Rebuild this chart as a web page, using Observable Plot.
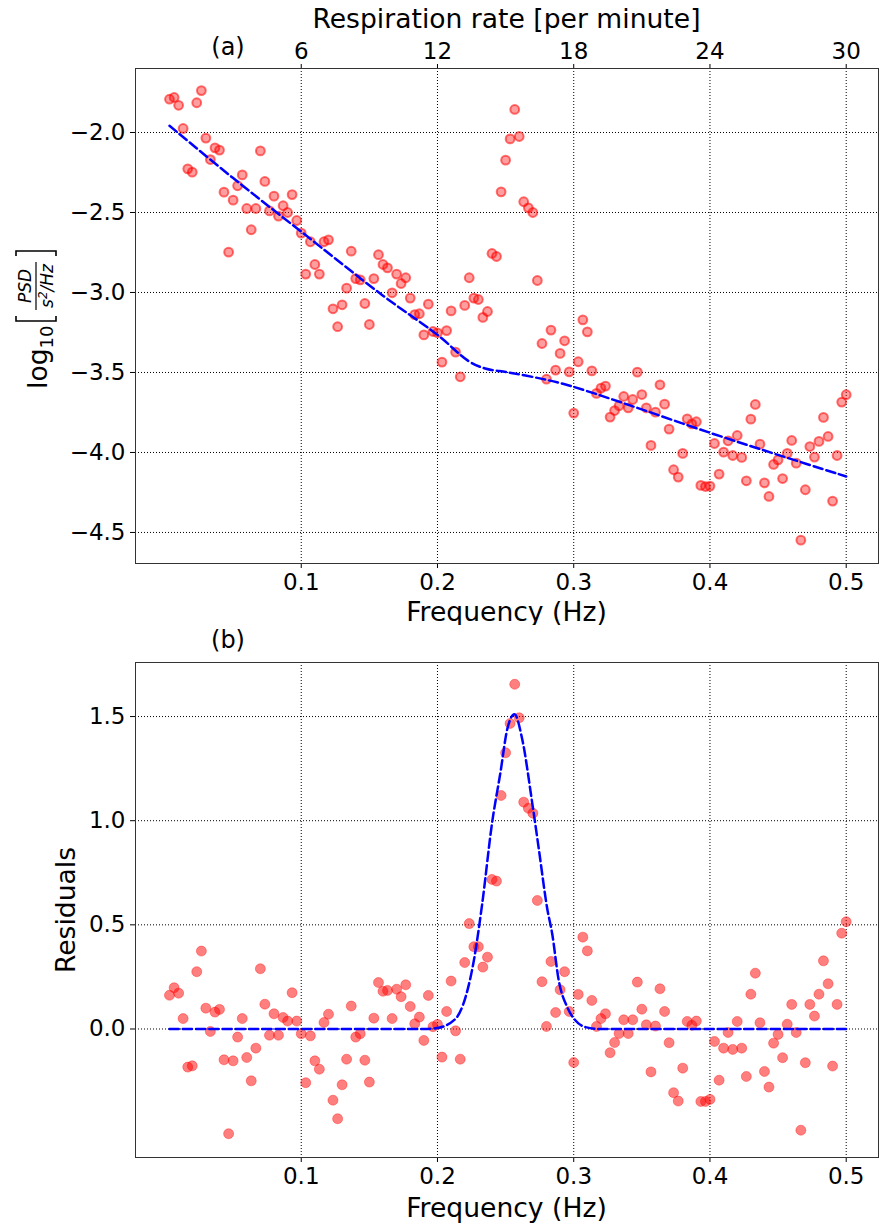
<!DOCTYPE html>
<html><head><meta charset="utf-8">
<script src="https://cdn.jsdelivr.net/npm/d3@7"></script>
<script src="https://cdn.jsdelivr.net/npm/@observablehq/plot@0.6"></script>
<style>body{margin:0;background:#fff}#c svg{display:block}</style>
</head><body><div id="c"></div>
<script>
// frequency bins (Hz)
const freqs = [
.0033,.0067,.01,.0133,.0167,.02,.0233,.0267,.03,.0333,.0367,.04,.0433,.0467,.05,
.0533,.0567,.06,.0633,.0667,.07,.0733,.0767,.08,.0833,.0867,.09,.0933,.0967,.10,
.1033,.1067,.11,.1133,.1167,.12,.1233,.1267,.13,.1333,.1367,.14,.1433,.1467,.15,
.1533,.1567,.16,.1633,.1667,.17,.1733,.1767,.18,.1833,.1867,.19,.1933,.1967,.20,
.2033,.2067,.21,.2133,.2167,.22,.2233,.2267,.23,.2333,.2367,.24,.2433,.2467,.25,
.2533,.2567,.26,.2633,.2667,.27,.2733,.2767,.28,.2833,.2867,.29,.2933,.2967,.30,
.3033,.3067,.31,.3133,.3167,.32,.3233,.3267,.33,.3333,.3367,.34,.3433,.3467,.35,
.3533,.3567,.36,.3633,.3667,.37,.3733,.3767,.38,.3833,.3867,.39,.3933,.3967,.40,
.4033,.4067,.41,.4133,.4167,.42,.4233,.4267,.43,.4333,.4367,.44,.4433,.4467,.45,
.4533,.4567,.46,.4633,.4667,.47,.4733,.4767,.48,.4833,.4867,.49,.4933,.4967,.50];

// log10 PSD values (panel a)
const logPSD = [
-1.792,-1.781,-1.830,-1.975,-2.227,-2.248,-1.814,-1.738,-2.035,-2.169,-2.096,-2.110,-2.373,-2.748,-2.423,
-2.333,-2.265,-2.475,-2.608,-2.475,-2.115,-2.306,-2.490,-2.398,-2.523,-2.458,-2.500,-2.388,-2.550,-2.629,
-2.885,-2.683,-2.825,-2.885,-2.683,-2.671,-3.102,-3.214,-3.077,-2.973,-2.742,-2.913,-2.921,-3.069,-3.200,
-2.913,-2.764,-2.825,-2.846,-3.002,-2.885,-2.944,-2.908,-3.035,-3.138,-3.133,-3.265,-3.073,-3.244,-3.252,
-3.435,-3.238,-3.115,-3.373,-3.527,-3.081,-2.908,-3.035,-3.044,-3.156,-3.119,-2.756,-2.775,-2.371,-2.173,
-2.040,-1.856,-2.025,-2.433,-2.471,-2.500,-2.925,-3.319,-3.542,-3.235,-3.485,-3.381,-3.302,-3.496,-3.754,
-3.433,-3.171,-3.246,-3.490,-3.631,-3.598,-3.585,-3.779,-3.738,-3.708,-3.650,-3.721,-3.669,-3.498,-3.638,
-3.721,-3.956,-3.748,-3.577,-3.698,-3.854,-4.108,-4.154,-4.006,-3.790,-3.821,-3.808,-4.206,-4.213,-4.210,
-3.944,-4.135,-3.998,-3.927,-4.019,-3.894,-4.031,-4.177,-3.792,-3.700,-3.948,-4.190,-4.275,-4.075,-4.046,
-4.163,-4.006,-3.925,-4.067,-4.548,-4.233,-3.963,-4.029,-3.931,-3.781,-3.900,-4.304,-4.019,-3.685,-3.639];

// residuals (panel b)
const residuals = [
0.162,0.198,0.172,0.050,-0.183,-0.177,0.275,0.374,0.100,-0.012,0.081,0.094,-0.148,-0.503,-0.153,
-0.039,0.050,-0.137,-0.249,-0.092,0.289,0.119,-0.030,0.073,-0.030,0.055,0.038,0.174,0.038,-0.023,
-0.258,-0.033,-0.153,-0.193,0.031,0.071,-0.342,-0.431,-0.268,-0.145,0.110,-0.039,-0.023,-0.150,-0.255,
0.052,0.223,0.181,0.185,0.050,0.191,0.155,0.212,0.108,0.025,0.057,-0.055,0.161,0.011,0.022,
-0.135,0.084,0.230,-0.009,-0.145,0.319,0.506,0.395,0.395,0.297,0.345,0.718,0.710,1.121,1.326,
1.467,1.655,1.494,1.089,1.060,1.036,0.617,0.227,0.012,0.324,0.079,0.188,0.275,0.084,-0.161,
0.166,0.441,0.375,0.137,0.012,0.050,0.073,-0.114,-0.065,-0.022,0.044,-0.022,0.044,0.225,0.095,
0.020,-0.206,0.014,0.193,0.084,-0.066,-0.306,-0.346,-0.188,0.036,0.018,0.038,-0.348,-0.348,-0.338,
-0.060,-0.246,-0.092,-0.017,-0.098,0.036,-0.092,-0.228,0.167,0.268,0.030,-0.204,-0.279,-0.068,-0.026,
-0.138,0.023,0.118,-0.017,-0.486,-0.162,0.118,0.062,0.167,0.327,0.217,-0.178,0.118,0.460,0.515];

// aperiodic fit curve (panel a)
const aperF = [0.0033,0.05,0.10,0.16,0.20,0.223,0.235,0.2523,0.2768,0.294,0.3086,0.338,0.40,0.45,0.50];
const aperV = [-1.958,-2.285,-2.62,-3.02,-3.265,-3.43,-3.475,-3.50,-3.54,-3.575,-3.613,-3.696,-3.877,-4.015,-4.15];

// periodic (gaussian) fit curve (panel b)
const peakF = [0.0033,0.10,0.19,0.1985,0.2132,0.2206,0.2267,0.2328,0.2401,0.2462,0.2512,0.2565,0.2622,0.2695,0.2744,0.2805,0.2842,0.289,0.2952,0.3013,0.3086,0.3184,0.40,0.50];
const peakV = [0,0,0,0.003,0.049,0.153,0.329,0.60,0.991,1.231,1.439,1.511,1.391,1.087,0.863,0.58,0.457,0.233,0.105,0.041,0.009,0,0,0];

const xTicks = [0.1,0.2,0.3,0.4,0.5];
const respLabels = ["6","12","18","24","30"];
const yTicksA = [-2.0,-2.5,-3.0,-3.5,-4.0,-4.5];
const yTicksB = [0.0,0.5,1.0,1.5];

const FONT = "DejaVu Sans, sans-serif";
const respMap = new Map(xTicks.map((t,i)=>[t,respLabels[i]]));
const fmt = d => d.toFixed(1).replace("-","\u2212");
const gridStyle = {stroke:"black", strokeOpacity:1, strokeWidth:1, strokeDasharray:"1,2"};
const xDomain = [-0.02165, 0.5237];

const dataA = freqs.map((f,i)=>({f, v: logPSD[i]}));
const dataB = freqs.map((f,i)=>({f, v: residuals[i]}));
const fitA = aperF.map((f,i)=>({f, v: aperV[i]}));
const fitB = peakF.map((f,i)=>({f, v: peakV[i]}));

const plotA = Plot.plot({
  width: 879, height: 625, marginLeft: 135, marginRight: 1, marginTop: 68, marginBottom: 62,
  style: {fontFamily: FONT, fontSize: "23px", background: "white", color: "black"},
  x: {domain: xDomain},
  y: {domain: [-4.694, -1.6]},
  marks: [
    Plot.gridX({ticks: xTicks, ...gridStyle}),
    Plot.gridY({ticks: yTicksA, ...gridStyle}),
    Plot.dot(dataA, {x:"f", y:"v", r:4.4, fill:"red", fillOpacity:0.38, stroke:"red", strokeOpacity:0.55, strokeWidth:2}),
    Plot.line(fitA, {x:"f", y:"v", stroke:"blue", strokeWidth:2.5, strokeDasharray:"9.25,4", curve:"catmull-rom"}),
    Plot.axisX({ticks: xTicks, anchor:"bottom", label:null, tickSize:5, tickPadding:5, tickFormat: fmt}),
    Plot.axisX({ticks: xTicks, anchor:"top", label:null, tickSize:5, tickPadding:5, tickFormat: d => respMap.get(d)}),
    Plot.axisY({ticks: yTicksA, anchor:"left", label:null, tickSize:5, tickPadding:5, tickFormat: fmt}),
    Plot.frame({stroke:"#333", strokeWidth:1})
  ]
});

const plotB = Plot.plot({
  width: 879, height: 603, marginLeft: 135, marginRight: 1, marginTop: 37, marginBottom: 71,
  style: {fontFamily: FONT, fontSize: "23px", background: "white", color: "black"},
  x: {domain: xDomain},
  y: {domain: [-0.617, 1.7595]},
  marks: [
    Plot.gridX({ticks: xTicks, ...gridStyle}),
    Plot.gridY({ticks: yTicksB, ...gridStyle}),
    Plot.dot(dataB, {x:"f", y:"v", r:5, fill:"red", fillOpacity:0.5, stroke:"red", strokeOpacity:0.35, strokeWidth:1}),
    Plot.line(fitB, {x:"f", y:"v", stroke:"blue", strokeWidth:2.5, strokeDasharray:"9.25,4", curve:"monotone-x"}),
    Plot.axisX({ticks: xTicks, anchor:"bottom", label:null, tickSize:5, tickPadding:5, tickFormat: fmt}),
    Plot.axisY({ticks: yTicksB, anchor:"left", label:null, tickSize:5, tickPadding:5, tickFormat: fmt}),
    Plot.frame({stroke:"#333", strokeWidth:1})
  ]
});

const c = document.getElementById("c");
c.appendChild(plotA);
c.appendChild(plotB);

function addText(svg, x, y, str, size, opts={}) {
  const t = d3.select(svg).append("text")
    .attr("x", x).attr("y", y).attr("text-anchor", opts.anchor || "middle")
    .attr("dominant-baseline", "central")
    .attr("font-family", FONT).attr("font-size", size).attr("fill", "black").text(str);
  if (opts.rotate) t.attr("transform", `rotate(-90 ${x} ${y})`);
  return t;
}
addText(plotA, 506.5, 18, "Respiration rate [per minute]", 26.6);
addText(plotA, 228, 47, "(a)", 24);
addText(plotA, 506.5, 611, "Frequency (Hz)", 26.6);
addText(plotB, 228, 15, "(b)", 24);
addText(plotB, 506.5, 582, "Frequency (Hz)", 26.6);
addText(plotB, 65, 285, "Residuals", 26.6, {rotate:true});

// y label with math: log10 [ PSD / (s^2/Hz) ]
const g = d3.select(plotA).append("g").attr("transform", "translate(38,315) rotate(-90)")
  .attr("font-family", FONT).attr("fill", "black");
const lt = g.append("text").attr("x", -74).attr("y", 9).attr("font-size", 26.6).attr("text-anchor","start");
lt.append("tspan").text("log");
lt.append("tspan").attr("font-size", 18).attr("dy", 6).text("10");
g.append("path").attr("d", "M-1,-22 h-5 v40 h5").attr("fill","none").attr("stroke","black").attr("stroke-width",1.6);
g.append("path").attr("d", "M59,-22 h5 v40 h-5").attr("fill","none").attr("stroke","black").attr("stroke-width",1.6);
g.append("text").attr("x", 29).attr("y", -7).attr("font-size", 17).attr("font-style","italic").attr("text-anchor","middle").text("PSD");
g.append("line").attr("x1", 5).attr("x2", 53).attr("y1", -2).attr("y2", -2).attr("stroke","black").attr("stroke-width",1.2);
const den = g.append("text").attr("x", 29).attr("y", 15).attr("font-size", 17).attr("font-style","italic").attr("text-anchor","middle");
den.append("tspan").text("s");
den.append("tspan").attr("font-size", 12).attr("dy", -6).text("2");
den.append("tspan").attr("dy", 6).text("/Hz");
</script></body></html>
